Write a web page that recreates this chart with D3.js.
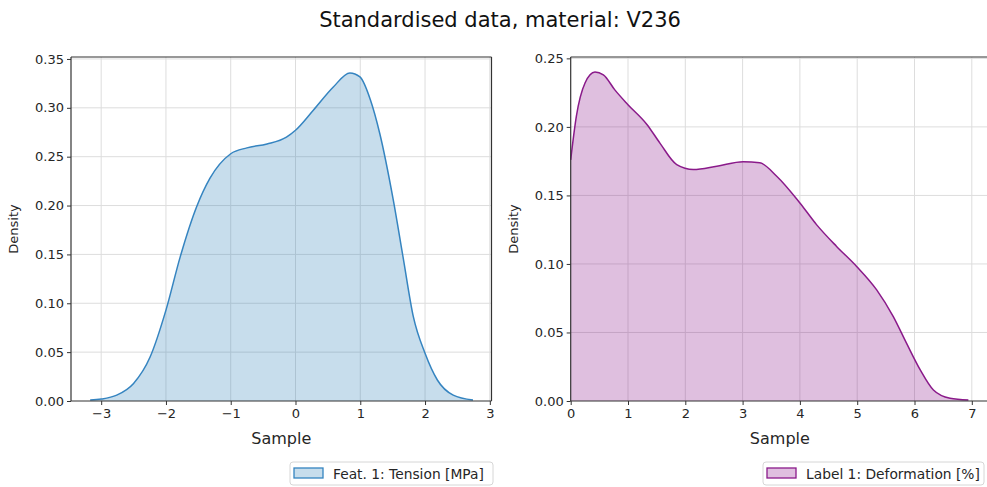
<!DOCTYPE html>
<html>
<head>
<meta charset="utf-8">
<script src="https://cdn.jsdelivr.net/npm/d3@7/dist/d3.min.js"></script>
<style>
  html, body { margin: 0; padding: 0; background: #fff; }
  svg { display: block; font-family: "DejaVu Sans", sans-serif; }
</style>
</head>
<body>
<svg id="chart" width="987" height="487"></svg>
<script>
// ---- Data ----
const title = "Standardised data, material: V236";

const tensionX = [-3.17, -3.0, -2.76, -2.50, -2.245, -2.0, -1.78, -1.525, -1.32, -1.0, -0.75, -0.44, -0.14, 0.0, 0.275, 0.58, 0.84, 0.995, 1.157, 1.30, 1.51, 1.66, 1.82, 2.0, 2.19, 2.435, 2.74];
const tensionY = [0.001, 0.002, 0.006, 0.018, 0.045, 0.093, 0.1475, 0.199, 0.228, 0.253, 0.259, 0.263, 0.270, 0.277, 0.2975, 0.321, 0.3357, 0.3316, 0.308, 0.274, 0.2055, 0.1475, 0.086, 0.0488, 0.0215, 0.006, 0.001];

const deformX = [0.0, 0.10, 0.25, 0.424, 0.57, 0.77, 0.995, 1.33, 1.56, 1.85, 2.14, 2.55, 3.01, 3.30, 3.595, 4.0, 4.29, 4.64, 4.99, 5.34, 5.63, 5.86, 6.10, 6.33, 6.62, 6.94];
const deformY = [0.176, 0.208, 0.232, 0.240, 0.238, 0.227, 0.2164, 0.2018, 0.188, 0.1725, 0.1689, 0.1713, 0.1745, 0.1738, 0.164, 0.1445, 0.1287, 0.1128, 0.0982, 0.0811, 0.0616, 0.0422, 0.0227, 0.008, 0.002, 0.0007];

const leftXTicks = [-3, -2, -1, 0, 1, 2, 3];
const leftYTicks = [0.00, 0.05, 0.10, 0.15, 0.20, 0.25, 0.30, 0.35];
const rightXTicks = [0, 1, 2, 3, 4, 5, 6, 7];
const rightYTicks = [0.00, 0.05, 0.10, 0.15, 0.20, 0.25];

const leftLegend = "Feat. 1: Tension [MPa]";
const rightLegend = "Label 1: Deformation [%]";
const xLabel = "Sample";
const yLabel = "Density";

// ---- Drawing ----
const svg = d3.select("#chart");

svg.append("text")
  .attr("x", 500).attr("y", 27)
  .attr("text-anchor", "middle")
  .attr("font-size", 21)
  .attr("fill", "#111")
  .text(title);

function panel(opts) {
  const { xs, ys, xDomain, yDomain, left, right, top, bottom, xTicks, yTicks,
          line, fill, legendText, legendBox, drawRightSpine } = opts;
  const x = d3.scaleLinear().domain(xDomain).range([left, right]);
  const y = d3.scaleLinear().domain(yDomain).range([bottom, top]);
  const g = svg.append("g");

  // grid
  g.selectAll(".gx").data(xTicks.filter(t => x(t) > left + 0.5 && x(t) < right - 0.5)).join("line")
    .attr("x1", d => x(d)).attr("x2", d => x(d))
    .attr("y1", top).attr("y2", bottom)
    .attr("stroke", "#dddddd").attr("stroke-width", 1);
  g.selectAll(".gy").data(yTicks.filter(t => y(t) < bottom - 0.5 && y(t) > top + 0.5)).join("line")
    .attr("x1", left).attr("x2", right)
    .attr("y1", d => y(d)).attr("y2", d => y(d))
    .attr("stroke", "#dddddd").attr("stroke-width", 1);

  const pts = xs.map((v, i) => [v, ys[i]]);
  const area = d3.area().x(d => x(d[0])).y0(y(0)).y1(d => y(d[1])).curve(d3.curveMonotoneX);
  const ln = d3.line().x(d => x(d[0])).y(d => y(d[1])).curve(d3.curveMonotoneX);

  g.append("path").datum(pts).attr("d", area)
    .attr("fill", fill).attr("fill-opacity", 0.25);
  g.append("path").datum(pts).attr("d", ln)
    .attr("fill", "none").attr("stroke", line).attr("stroke-width", 1.5);

  // axes
  const xAxis = d3.axisBottom(x).tickValues(xTicks).tickSize(4).tickPadding(4)
    .tickFormat(d => d < 0 ? "\u2212" + Math.abs(d) : String(d));
  const yAxis = d3.axisLeft(y).tickValues(yTicks).tickSize(4).tickPadding(3)
    .tickFormat(d3.format(".2f"));

  const gx = g.append("g").attr("transform", `translate(0,${bottom})`).call(xAxis);
  const gy = g.append("g").attr("transform", `translate(${left},0)`).call(yAxis);
  [gx, gy].forEach(a => {
    a.select(".domain").remove();
    a.selectAll("line").attr("stroke", "#333").attr("stroke-width", 1);
    a.selectAll("text").attr("font-size", 13).attr("fill", "#262626")
      .attr("font-family", "DejaVu Sans, sans-serif");
  });

  // spines
  const sp = "#333";
  g.append("line").attr("x1", left).attr("x2", left).attr("y1", top).attr("y2", bottom).attr("stroke", sp).attr("stroke-width", 1.2);
  g.append("line").attr("x1", left).attr("x2", right).attr("y1", bottom).attr("y2", bottom).attr("stroke", sp).attr("stroke-width", 1.2);
  g.append("line").attr("x1", left).attr("x2", right).attr("y1", top).attr("y2", top).attr("stroke", sp).attr("stroke-width", 1.2);
  if (drawRightSpine) {
    g.append("line").attr("x1", right).attr("x2", right).attr("y1", top).attr("y2", bottom).attr("stroke", sp).attr("stroke-width", 1.2);
  }

  // labels
  g.append("text").attr("x", (left + right) / 2).attr("y", 444)
    .attr("text-anchor", "middle").attr("font-size", 16).attr("fill", "#262626").text(xLabel);
  g.append("text").attr("transform", `translate(${left - 53},${(top + bottom) / 2}) rotate(-90)`)
    .attr("text-anchor", "middle").attr("font-size", 13).attr("fill", "#262626").text(yLabel);

  // legend
  const [lx, ly, lw, lh] = legendBox;
  g.append("rect").attr("x", lx).attr("y", ly).attr("width", lw).attr("height", lh)
    .attr("rx", 3).attr("fill", "#fff").attr("stroke", "#d6d6d6").attr("stroke-width", 1);
  g.append("rect").attr("x", lx + 4).attr("y", ly + 6).attr("width", 29).attr("height", 10)
    .attr("fill", fill).attr("fill-opacity", 0.25).attr("stroke", line).attr("stroke-width", 1.3);
  g.append("text").attr("x", lx + 43).attr("y", ly + 16.5)
    .attr("font-size", 13.8).attr("fill", "#262626").text(legendText);
}

panel({
  xs: tensionX, ys: tensionY,
  xDomain: [-3.466, 3.026], yDomain: [0, 0.352],
  left: 71, right: 491.5, top: 57, bottom: 401,
  xTicks: leftXTicks, yTicks: leftYTicks,
  line: "#3584c0", fill: "#1f77b4",
  legendText: leftLegend, legendBox: [290, 462, 203, 23],
  drawRightSpine: true
});

panel({
  xs: deformX, ys: deformY,
  xDomain: [0, 7.3], yDomain: [0, 0.251],
  left: 570.7, right: 989, top: 57, bottom: 401,
  xTicks: rightXTicks, yTicks: rightYTicks,
  line: "#8a1a8a", fill: "#800080",
  legendText: rightLegend, legendBox: [763, 462, 221, 23],
  drawRightSpine: false
});
</script>
</body>
</html>
